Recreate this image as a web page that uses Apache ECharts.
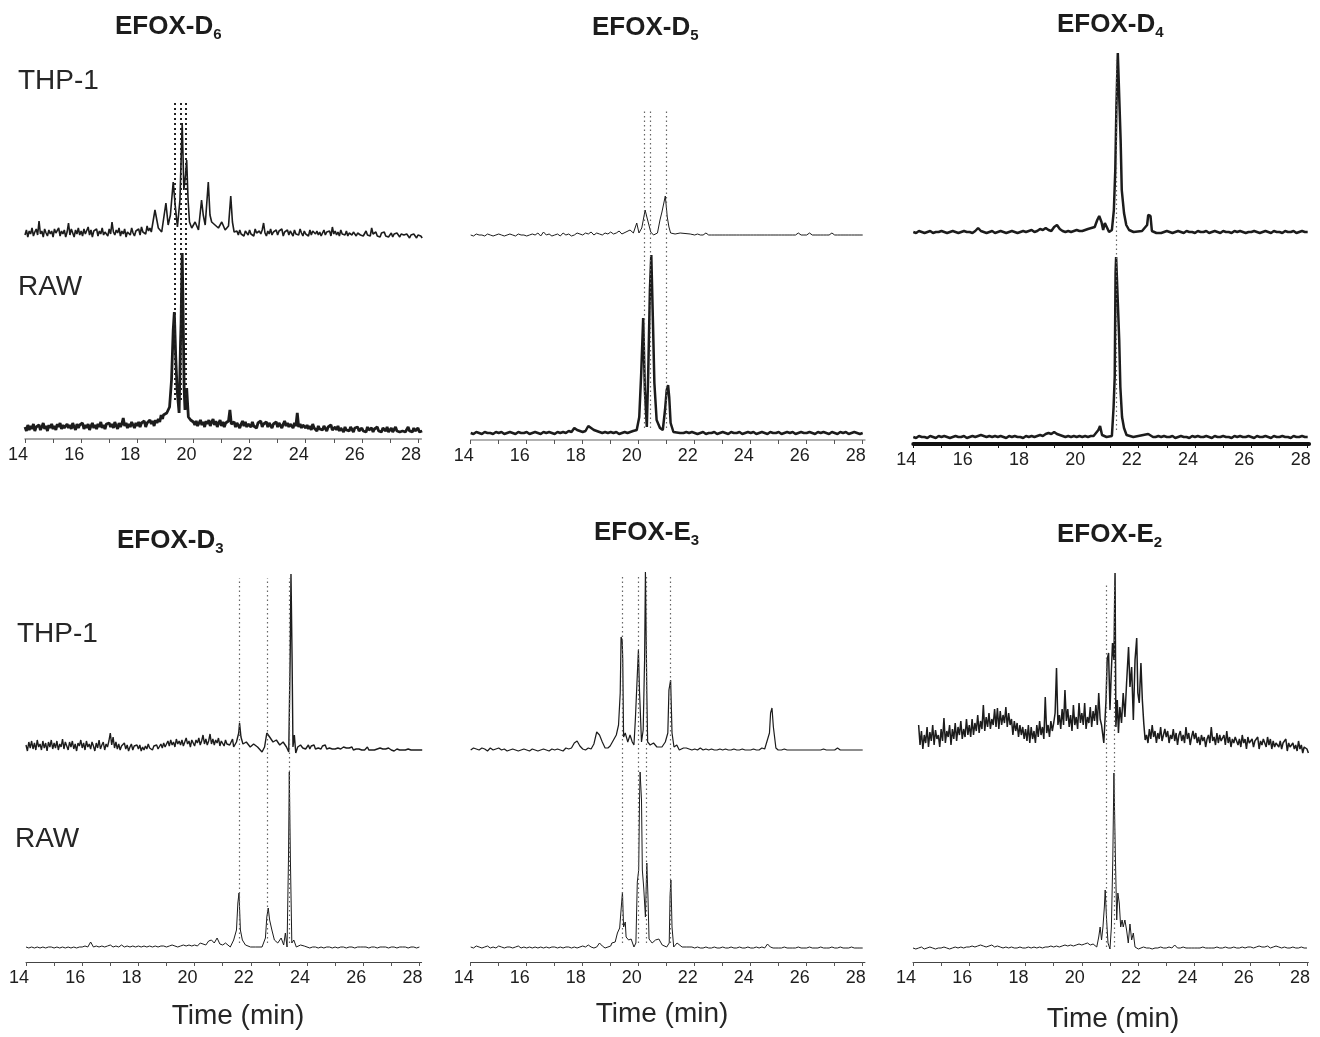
<!DOCTYPE html>
<html><head><meta charset="utf-8">
<script src="https://cdn.jsdelivr.net/npm/echarts@6/dist/echarts.min.js"></script>
<style>html,body{margin:0;padding:0;background:#fff}#c{width:1320px;height:1037px}</style>
</head><body><div id="c"></div><script>
// ---------- text ----------
const titles = [['EFOX-D','6'],['EFOX-D','5'],['EFOX-D','4'],['EFOX-D','3'],['EFOX-E','3'],['EFOX-E','2']];
const sampleLabels = ['THP-1','RAW'];
const timeLabel = 'Time (min)';
const tickValues = [14,15,16,17,18,19,20,21,22,23,24,25,26,27,28];
const labelValues = [14,16,18,20,22,24,26,28];
const baseStep = 0.1;  // baseline sampling interval (min)
const fineStep = 0.05; // sampling interval of the noisier traces (min)

// ---------- EFOX-D6 ----------
const d6ThpLeft = [8,13,6,12,9,15,7,11,14,8, 22,9,12,6,14,10,7,13,9,12, 6,14,10,8,15,7,12,9,13,6, 11,20,8,14,10,6,13,9,15,8,
 12,7,14,9,11,16,8,13,6,12, 10,14,7,12,9,15,8,11,13,7, 14,9,21,11,8,13,10,15,7,12, 9,14,6,11,13,8,15,10,7,12,
 10,14,8,16,11,13,9,17,12,15, 11];
const d6ThpRight = [12,8,13,9,11,7,12,10,8, 13,9,11,7,14,10,8,12,9,13, 20,10,7,12,9,14,8,11,10,13, 8,12,10,14,7,11,9,13,8,12,
 10,7,13,9,11,8,14,10,7,12, 9,11,7,13,8,12,10,9,12,8, 11,7,10,13,8,11,9,12,7,16, 9,12,8,11,7,13,9,10,8,12,
 7,10,12,8,11,9,7,10,12,8, 10,7,9,12,8,10,7,15,9,8, 11,7,9,6,10,8,11,7,9,6, 8,10,6,9,7,10,8,6,9,7,
 8,6,9,7,5,8,6,9,7,5, 8,6,7,5];
const d6ThpPeaks = [[18.56,10],[18.63,33],[18.75,15],[18.87,11],[19.02,40],[19.1,18],[19.18,28],[19.28,61],[19.35,38],[19.43,16],[19.52,43],[19.6,120],[19.66,53],[19.72,68],[19.76,83],[19.81,43],[19.86,21],[19.94,15],[20.06,21],[20.18,13],[20.29,43],[20.35,28],[20.42,18],[20.53,61],[20.59,28],[20.65,21],[20.77,18],[20.89,15],[21.01,21],[21.13,13],[21.25,17],[21.33,47],[21.39,21],[21.45,11],[21.5,10]];
const d6RawLeft = [12,8,14,9,13,10,15,8,12,10, 14,9,12,16,10,13,8,14,11,15, 10,13,9,15,12,16,10,14,11,13, 15,11,14,10,16,12,9,15,11,14,
 12,16,10,14,11,15,9,13,16,11, 14,10,15,12,17,11,14,10,15,13, 16,12,15,11,17,13,10,16,12,15, 21,13,16,11,15,12,17,14,11,16,
 13,17,12,16,14,18,12,16,14,19, 15,18,13,19,16,20,17,24,20];
const d6RawRight = [17,14,18,13,16,19,14,17,12,18, 15,19,13,17,20,14,18,12,16,19, 13,17,12,16,14,18,29,15,13,17, 12,16,14,11,15,18,13,17,12,15,
 16,12,17,13,15,11,16,14,18,12, 15,13,17,12,16,14,11,15,13,17, 12,16,14,11,15,18,13,16,12,15, 14,11,16,13,26,12,15,11,14,12,
 11,14,10,13,9,15,11,12,8,13, 10,12,9,13,11,8,12,10,14,9, 10,12,9,13,8,11,10,7,12,9, 11,8,12,10,7,11,9,12,8,10,
 11,8,10,7,12,9,8,11,7,10, 9,12,8,10,7,11,9,8,12,7, 8,11,7,9,12,8,10,7,9,8, 10,7,9,12,8,10,7,11,8,9,
 11,7,9,8];
const d6RawPeaks = [[18.93,24],[19.05,26],[19.15,32],[19.22,59],[19.28,109],[19.32,127],[19.37,82],[19.42,49],[19.49,26],[19.54,96],[19.56,116],[19.6,186],[19.63,132],[19.67,49],[19.7,29],[19.76,51],[19.82,22],[19.9,19],[19.96,17]];
const d6Marks = [19.32,19.55,19.74];

// ---------- EFOX-D5 ----------
const d5Thp = [10,9,11,10,10,9,11,10,9,10, 11,10,9,10,11,10,9,11,10,10, 9,10,11,10,12,9,13,10,11,9, 10,11,9,12,10,11,9,10,12,11,
 10,12,11,13,10,12,11,10,12,11, 13,11,12,14,11,13,15,12,14,13, 12,11,13,12,11,12,11,12,11,12, 11,12,11,12,11,12,11,12,11,11,
 10,11,10,10,12,10,10,10,10,10, 10,10,10,10,10,10,10,10,10,10, 10,10,10,10,10,10,10,10,10,10, 10,10,10,10,10,10,10,12,10,10,
 10,12,10,10,10,10,10,10,10,12, 10,10,10,10,10,10,10,10,10,10, 10];
const d5ThpPeaks = [[19.45,13],[19.69,15],[19.81,12],[19.93,22],[20.01,12],[20.11,17],[20.23,35],[20.3,27],[20.37,29],[20.43,13],[20.53,10],[20.67,12],[20.76,25],[20.83,33],[20.88,31],[20.95,49],[21.02,28],[21.08,18],[21.14,12],[21.3,11],[21.48,12],[21.84,11]];
const d5Raw = [7,6,8,7,6,8,7,7,6,8, 7,8,6,7,8,7,6,8,7,7, 8,6,7,8,7,6,8,7,8,7, 6,8,7,8,7,9,8,12,10,9,
 8,9,14,12,10,9,8,7,8,7, 8,7,8,6,7,8,7,8,9,10, 9,10,11,10,9,8,9,10,9,8, 9,8,9,8,7,8,7,8,7,8,
 7,6,7,8,6,7,7,8,6,7, 8,7,6,8,7,7,8,6,7,8, 7,8,6,7,8,7,6,8,7,7, 8,6,7,8,7,8,6,7,8,7,
 7,8,7,6,8,7,8,7,6,8, 7,6,8,7,8,6,7,8,7,6, 7];
const d5RawPeaks = [[19.81,8],[19.93,10],[20.02,23],[20.09,67],[20.16,122],[20.22,50],[20.29,13],[20.34,67],[20.4,150],[20.45,185],[20.51,117],[20.56,57],[20.64,20],[20.76,12],[20.86,10],[20.94,30],[21.0,50],[21.05,55],[21.09,43],[21.14,17],[21.24,8],[21.48,7]];
const d5Marks = [20.2,20.41,20.99];

// ---------- EFOX-D4 ----------
const d4Thp = [10,9,11,10,9,10,11,9,10,10, 11,10,9,10,11,10,9,10,11,10, 10,9,11,14,11,10,9,10,11,9, 10,11,10,9,10,11,10,9,10,11,
 10,11,12,10,11,13,12,14,12,11, 15,17,13,11,10,11,10,11,12,11, 11,12,13,12,11,12,13,12,13,12, 11,12,11,12,11,12,11,12,11,12,
 10,11,9,10,11,10,10,11,9,10, 11,10,9,10,11,10,9,11,10,10, 9,11,10,10,11,9,10,11,10,9, 11,10,10,9,11,10,11,10,9,10,
 10,11,10,9,10,11,10,9,11,10, 10,9,11,10,10,11,9,10,11,10, 10];
const d4ThpPeaks = [[20.27,11],[20.44,15],[20.53,22],[20.6,26],[20.68,20],[20.74,12],[20.8,19],[20.86,21],[20.95,10],[21.05,12],[21.12,32],[21.17,72],[21.21,135],[21.26,189],[21.32,189],[21.36,102],[21.4,52],[21.45,50],[21.48,29],[21.56,17],[21.66,12],[21.82,10],[22.12,11],[22.3,17],[22.34,27],[22.42,26],[22.47,11],[22.63,9]];
const d4Raw = [7,6,8,7,7,6,8,7,6,8, 7,8,7,6,7,8,7,7,8,6, 7,8,7,8,9,8,7,8,7,8, 7,8,7,6,8,7,8,7,7,6,
 8,7,8,7,8,9,8,10,11,10, 12,10,9,8,7,8,7,8,7,8, 7,8,7,8,8,9,8,8,7,8, 8,9,8,9,8,9,8,9,8,8,
 7,8,7,7,8,6,7,8,7,8, 7,7,8,6,7,8,7,7,6,8, 7,8,7,7,8,7,6,8,7,7, 8,7,7,6,8,7,8,7,7,8,
 7,6,8,7,7,8,7,6,8,7, 7,8,7,7,6,8,7,7,8,7, 7];
const d4RawPeaks = [[20.45,9],[20.57,14],[20.63,18],[20.7,9],[20.86,7],[21.05,8],[21.11,37],[21.15,67],[21.18,171],[21.2,187],[21.27,187],[21.31,104],[21.35,57],[21.41,27],[21.48,16],[21.57,9],[21.81,7],[22.34,10],[22.51,7]];
const d4Marks = [21.22];

// ---------- EFOX-D3 ----------
const d3ThpLeft = [12,6,15,9,16,8,14,7,17,10, 13,7,16,9,14,6,15,10,17,8, 14,9,16,7,13,10,18,8,15,11, 7,15,10,16,8,13,6,14,11,17,
 9,14,7,16,10,13,8,15,11,6, 14,9,17,8,12,15,7,13,10,16, 24,12,20,9,15,8,13,7,11,9, 14,8,12,6,10,13,7,11,9,12,
 8,12,6,10,7,11,8,13,9,10, 7,11,9,12,8,10,13,9,14,10, 10,16,11,17,12,15,10,18,13,16, 12,17,11,15,19,13,16,10,17,14,
 11,17,14,19,12,16,22,13,18,12, 16,23,13,18,12,17,14,19,11,16, 16,11,17,13,15,12,14,18];
const d3ThpRight = [12,9,11,8, 9,12,8,11,9,12,8,10,9,11, 8,11,9,12,8,10,9,11,8,10, 8,10,9,11,8,9,10,8,9,8, 9,8,10,7,9,8,10,8,9,7,
 9,7,8,10,7,8,7,9,7,8, 8,7,9,7,8,6,8,7,9,7, 7,8,6,7,8,6,7,6,7,6, 7,6,8,6,7,5,7,6,7,6, 7,6,7];
const d3ThpPeaks = [[21.39,10],[21.49,15],[21.57,24],[21.6,34],[21.65,20],[21.72,13],[21.84,15],[21.98,10],[22.1,13],[22.24,10],[22.4,5],[22.49,10],[22.57,24],[22.67,20],[22.79,15],[22.91,17],[23.03,12],[23.15,15],[23.27,10],[23.35,5],[23.4,97],[23.43,183],[23.47,97],[23.5,10],[23.55,22],[23.6,4],[23.67,10],[23.77,12]];
const d3Raw = [15,14,15,14,15,14,15,14,15,15, 14,15,14,15,14,15,14,15,14,15, 15,16,15,20,15,16,15,16,15,16, 17,15,16,15,17,15,16,15,16,15,
 16,15,16,15,16,15,16,15,16,16, 15,16,17,16,15,16,17,16,17,16, 17,16,19,18,17,21,22,19,24,18, 17,19,16,17,16,17,16,17,16,17,
 16,16,16,16,16,16,16,16,16,16, 16,16,16,16,16,16,16,16,16,16, 15,14,15,15,14,15,14,15,15,14, 15,14,15,15,14,15,15,14,15,15,
 15,15,14,15,15,14,15,15,15,14, 15,15,14,15,15,15,14,15,15,14, 15];
const d3RawPeaks = [[21.15,19],[21.27,15],[21.39,22],[21.49,32],[21.54,59],[21.58,69],[21.63,32],[21.7,22],[21.81,17],[21.99,15],[22.16,15],[22.4,15],[22.52,24],[22.57,45],[22.62,54],[22.67,42],[22.75,32],[22.84,22],[22.96,19],[23.08,24],[23.17,17],[23.23,29],[23.29,15],[23.34,102],[23.37,190],[23.41,102],[23.46,19],[23.53,22],[23.62,15],[23.77,17]];
const d3Marks = [21.59,22.57,23.38];

// ---------- EFOX-E3 ----------
const e3Thp = [10,12,11,10,12,11,9,12,10,11, 12,10,11,9,10,11,10,9,10,11, 10,9,11,10,9,10,11,10,9,11, 10,11,10,9,12,11,12,17,19,14,
 11,10,12,11,16,28,25,18,12,11, 10,12,11,12,11,12,11,12,11,12, 12,11,12,11,12,11,12,11,12,11, 11,12,11,12,11,12,11,12,11,10,
 11,10,12,10,11,10,11,10,10,11, 10,11,10,10,11,10,10,11,10,10, 10,11,10,10,12,11,10,10,10,10, 10,10,11,10,10,10,10,10,10,10,
 10,10,10,10,10,10,11,10,10,10, 10,12,10,10,10,10,10,10,10,10, 10];
const e3ThpPeaks = [[18.9,12],[18.98,14],[19.1,20],[19.2,25],[19.28,35],[19.34,67],[19.37,123],[19.41,120],[19.43,100],[19.46,23],[19.52,27],[19.61,18],[19.69,25],[19.77,18],[19.83,15],[19.88,40],[19.93,72],[19.99,110],[20.03,68],[20.06,68],[20.1,18],[20.16,30],[20.21,100],[20.24,188],[20.29,67],[20.32,18],[20.41,15],[20.53,17],[20.65,13],[20.83,13],[20.95,18],[21.04,27],[21.08,70],[21.14,80],[21.19,27],[21.26,13],[21.36,15],[21.45,10],[21.6,12]];
const e3ThpPeaks2 = [[24.57,12],[24.67,27],[24.71,47],[24.76,52],[24.81,33],[24.86,33],[24.9,12],[24.98,10]];
const e3Raw = [15,14,16,15,14,15,16,14,15,14, 16,15,14,15,15,14,15,16,14,15, 14,15,14,15,14,15,14,15,14,15, 15,14,15,14,15,15,14,15,14,15,
 16,15,17,15,14,15,19,16,14,15, 16,17,16,17,16,17,16,17,16,17, 15,15,15,15,15,15,15,15,15,15, 15,15,15,15,15,15,15,15,15,15,
 14,15,14,14,15,14,14,15,14,14, 15,14,14,15,14,14,15,14,14,15, 14,14,15,14,15,14,18,15,14,14, 14,14,15,14,14,14,14,15,14,14,
 14,15,14,14,14,15,14,14,14,15, 14,14,15,14,14,14,15,14,14,14, 14];
const e3RawPeaks = [[19.04,19],[19.16,20],[19.24,29],[19.32,34],[19.37,35],[19.42,70],[19.46,35],[19.52,40],[19.55,25],[19.64,22],[19.73,23],[19.83,15],[19.9,19],[19.95,80],[20.0,92],[20.03,162],[20.05,190],[20.1,162],[20.13,92],[20.18,74],[20.24,45],[20.29,99],[20.33,66],[20.37,23],[20.48,19],[20.6,22],[20.72,23],[20.84,17],[21.0,15],[21.09,19],[21.12,66],[21.15,82],[21.19,35],[21.25,15],[21.37,19],[21.55,15]];
const e3Marks = [19.41,19.99,20.26,21.14];

// ---------- EFOX-E2 ----------
const e2ThpLeft = [40,20,34,16,30,22, 38,18,33,24,40,20,35,26,30,18, 36,24,47,22,34,28,40,20,36,26, 42,24,38,30,44,26,36,28,46,30,
 40,28,46,30,42,34,50,32,44,36, 60,34,48,38,52,36,46,40,56,38, 57,36,54,40,50,42,58,38,52,40, 46,30,44,34,42,28,40,30,38,26,
 36,24,40,22,38,26,34,22,40,28, 44,30,38,26,68,32,40,28,44,34, 42,52,97,40,50,36,56,40,75,44, 56,38,50,34,60,40,48,36,62,42,
 52,40,62,36,48,42,58,38,54,44, 60,40,72,46];
const e2ThpRight = [30,22,36,26, 40,28,34,22,32,26,38,24,30,36, 28,34,22,30,26,36,24,32,20,30, 34,24,30,22,38,26,32,20,28,34,
 26,32,22,28,20,30,24,28,18,26, 30,22,38,24,28,20,32,22,30,24, 24,30,20,34,22,28,18,26,22,28, 28,20,26,18,30,22,26,16,28,22,
 20,26,18,24,22,28,16,24,20,26, 24,18,28,20,26,16,24,18,22,20, 18,24,16,22,20,26,14,22,18,20, 22,16,20,14,24,16,20,12,18,16,
 16,12];
const e2ThpPeaks = [[20.7,40],[20.78,22],[20.86,65],[20.9,105],[20.95,112],[21.0,55],[21.04,88],[21.09,122],[21.14,105],[21.18,192],[21.21,38],[21.26,65],[21.3,32],[21.35,58],[21.41,42],[21.47,72],[21.53,48],[21.59,82],[21.66,118],[21.71,78],[21.77,98],[21.83,45],[21.89,105],[21.95,127],[21.99,72],[22.04,62],[22.1,102],[22.15,65],[22.2,42],[22.25,25]];
const e2Raw = [14,13,14,15,13,14,15,14,13,14, 14,15,14,13,14,15,14,15,14,15, 15,16,15,16,17,16,15,16,17,15, 16,15,14,15,14,15,14,14,15,14,
 14,15,14,15,14,15,14,15,15,16, 15,16,15,16,17,16,17,16,17,18, 17,18,19,17,18,17,18,17,18,17, 16,16,16,16,16,16,16,16,16,16,
 14,14,15,14,14,13,14,14,15,14, 14,15,14,17,14,14,15,14,14,14, 14,14,14,15,14,14,14,14,15,14, 14,15,14,14,15,14,14,15,14,15,
 15,14,15,16,15,15,16,14,15,16, 15,14,15,14,14,15,14,14,15,14, 14];
const e2RawPeaks = [[20.41,17],[20.53,15],[20.6,25],[20.65,35],[20.7,22],[20.75,35],[20.8,55],[20.83,72],[20.88,42],[20.93,19],[21.0,13],[21.05,35],[21.1,102],[21.14,189],[21.19,109],[21.24,42],[21.28,69],[21.33,59],[21.38,35],[21.43,42],[21.47,35],[21.53,42],[21.59,32],[21.65,19],[21.71,38],[21.77,22],[21.83,29],[21.89,15],[22.01,13],[22.19,15]];
const e2Marks = [20.88,21.15];

// ---------- build ----------
// bases: [startTime, samplingStep, values]; peak segments replace baseline samples inside their time span
function buildTrace(bases, segs) {
  let pts = [];
  bases.forEach(([start, step, vals]) => vals.forEach((v, i) => pts.push([Math.round((start + i * step) * 1000) / 1000, v])));
  segs.forEach(seg => {
    const a = seg[0][0], b = seg[seg.length - 1][0];
    pts = pts.filter(p => p[0] < a || p[0] > b).concat(seg);
  });
  return pts.sort((p, q) => p[0] - q[0]);
}
const sets = [
  {thp: buildTrace([[14, fineStep, d6ThpLeft], [21.55, fineStep, d6ThpRight]], [d6ThpPeaks]),
   raw: buildTrace([[14, fineStep, d6RawLeft], [20, fineStep, d6RawRight]], [d6RawPeaks]), marks: d6Marks},
  {thp: buildTrace([[14, baseStep, d5Thp]], [d5ThpPeaks]), raw: buildTrace([[14, baseStep, d5Raw]], [d5RawPeaks]), marks: d5Marks},
  {thp: buildTrace([[14, baseStep, d4Thp]], [d4ThpPeaks]), raw: buildTrace([[14, baseStep, d4Raw]], [d4RawPeaks]), marks: d4Marks},
  {thp: buildTrace([[14, fineStep, d3ThpLeft], [23.8, fineStep, d3ThpRight]], [d3ThpPeaks]),
   raw: buildTrace([[14, baseStep, d3Raw]], [d3RawPeaks]), marks: d3Marks},
  {thp: buildTrace([[14, baseStep, e3Thp]], [e3ThpPeaks, e3ThpPeaks2]), raw: buildTrace([[14, baseStep, e3Raw]], [e3RawPeaks]), marks: e3Marks},
  {thp: buildTrace([[14.2, fineStep, e2ThpLeft], [22.3, fineStep, e2ThpRight]], [e2ThpPeaks]),
   raw: buildTrace([[14, baseStep, e2Raw]], [e2RawPeaks]), marks: e2Marks}
];

const FONT = '"Liberation Sans", Arial, sans-serif';
const INK = '#1c1c1c';
const layout = [
  {left:25, ppm:28.07, xMax:28.12, thp:[103,140], raw:[239,200], dots:[102,400], dotW:2, dotC:'#222', dash:[2,3], axisC:'#8a8a8a', axisW:1.5, thpW:1.6, rawW:2.8, title:[115,14]},
  {left:470.7, ppm:28.0, xMax:28.08, thp:[105,140], raw:[240,200], dots:[110,428], dotW:1.2, dotC:'#666', dash:[1.5,3], axisC:'#999', axisW:1.5, thpW:1, rawW:2.5, title:[592,15]},
  {left:913.3, ppm:28.17, xMax:28.05, thp:[52,190], raw:[244,200], dots:[60,430], dotW:1.2, dotC:'#666', dash:[1.5,3], axisC:'#111', axisW:4, thpW:2.5, rawW:2.5, title:[1057,12]},
  {left:26, ppm:28.1, xMax:28.08, thp:[567,190], raw:[762,200], dots:[578,943], dotW:1.2, dotC:'#666', dash:[1.5,3], axisC:'#444', axisW:1, thpW:1.4, rawW:1, title:[117,528], time:[238,1016]},
  {left:470.7, ppm:28.0, xMax:28.08, thp:[570,190], raw:[762,200], dots:[577,943], dotW:1.2, dotC:'#666', dash:[1.5,3], axisC:'#444', axisW:1, thpW:1.2, rawW:1, title:[594,520], time:[662,1014]},
  {left:913, ppm:28.14, xMax:28.05, thp:[565,200], raw:[762,200], dots:[583,947], dotW:1.2, dotC:'#666', dash:[1.5,3], axisC:'#444', axisW:1, thpW:1.5, rawW:1, title:[1057,522], time:[1113,1019]}
];

const grid = [], xAxis = [], yAxis = [], series = [], graphic = [];
layout.forEach((L, p) => {
  const width = (L.xMax - 14) * L.ppm;
  const g0 = 3 * p;
  grid.push({left:L.left, top:L.thp[0], width, height:L.thp[1]},
            {left:L.left, top:L.raw[0], width, height:L.raw[1]},
            {left:L.left, top:L.dots[0], width, height:L.dots[1] - L.dots[0]});
  const hx = gi => ({type:'value', gridIndex:gi, min:14, max:L.xMax, show:false});
  xAxis.push(hx(g0), {
    type:'value', gridIndex:g0 + 1, min:14, max:L.xMax, interval:1,
    axisLine:{show:true, onZero:false, lineStyle:{color:L.axisC, width:L.axisW}},
    axisTick:{show:true, length:4, inside:false, customValues:tickValues, lineStyle:{color:L.axisC === '#111' ? '#111' : '#555', width:1}},
    axisLabel:{show:true, customValues:labelValues, margin:7, color:'#1e1e1e', fontSize:18, fontFamily:FONT, padding:[0,14,0,0]},
    splitLine:{show:false}
  }, hx(g0 + 2));
  yAxis.push({type:'value', gridIndex:g0, min:0, max:L.thp[1], show:false, splitLine:{show:false}},
             {type:'value', gridIndex:g0 + 1, min:0, max:L.raw[1], show:false, splitLine:{show:false}},
             {type:'value', gridIndex:g0 + 2, min:0, max:1, show:false, splitLine:{show:false}});
  const S = sets[p];
  series.push(
    {type:'line', xAxisIndex:g0, yAxisIndex:g0, data:S.thp, symbol:'none', silent:true, z:3, lineStyle:{color:INK, width:L.thpW}},
    {type:'line', xAxisIndex:g0 + 1, yAxisIndex:g0 + 1, data:S.raw, symbol:'none', silent:true, z:3, lineStyle:{color:INK, width:L.rawW}},
    {type:'line', xAxisIndex:g0 + 2, yAxisIndex:g0 + 2, data:[], symbol:'none', silent:true, z:1,
     markLine:{silent:true, symbol:['none','none'], label:{show:false}, animation:false,
       lineStyle:{type:L.dash, width:L.dotW, color:L.dotC}, emphasis:{disabled:true},
       data:S.marks.map(t => ({xAxis:t}))}}
  );
  const T = titles[p];
  graphic.push({type:'text', left:L.title[0], top:L.title[1], silent:true, style:{
    text:'{b|' + T[0] + '}{s|' + T[1] + '}',
    rich:{b:{fontSize:26, fontWeight:'bold', fontFamily:FONT, fill:INK, lineHeight:30},
          s:{fontSize:15, fontWeight:'bold', fontFamily:FONT, fill:INK, lineHeight:15, verticalAlign:'bottom'}}}});
  if (L.time) {
    graphic.push({type:'text', x:L.time[0], y:L.time[1], silent:true, style:{text:timeLabel, font:'28px ' + FONT, fill:'#262626', textAlign:'center', textVerticalAlign:'middle', align:'center', verticalAlign:'middle'}});
  }
});
// sample labels (left column)
[[18,67,0],[18,273,1],[17,620,0],[15,825,1]].forEach(s => {
  graphic.push({type:'text', left:s[0], top:s[1], silent:true, style:{text:sampleLabels[s[2]], font:'28px ' + FONT, fill:'#262626'}});
});

const chart = echarts.init(document.getElementById('c'), null, {renderer:'canvas'});
chart.setOption({animation:false, backgroundColor:'#fff', grid, xAxis, yAxis, series, graphic, tooltip:{show:false}});
</script></body></html>
